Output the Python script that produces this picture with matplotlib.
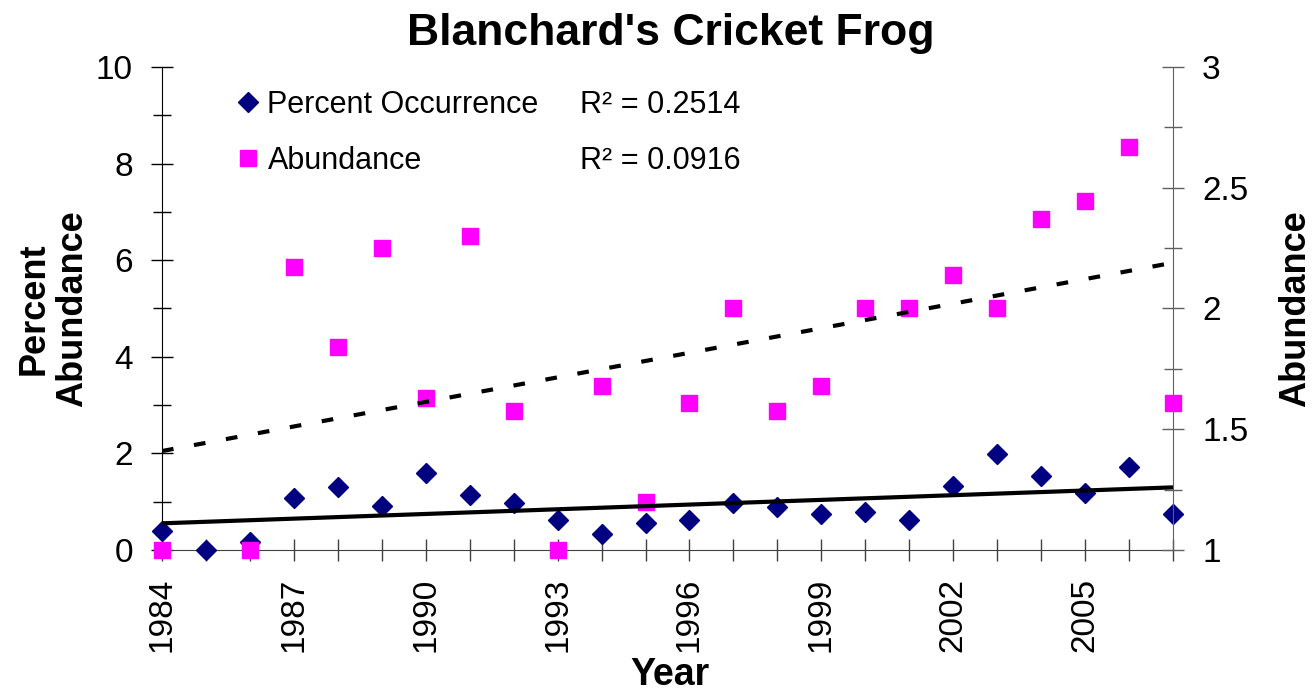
import numpy as np
import matplotlib
matplotlib.use("Agg")
import matplotlib.pyplot as plt
from matplotlib.lines import Line2D

plt.rcParams['font.family'] = ['Liberation Sans', 'DejaVu Sans']

years = list(range(1984, 2008))
percent = [0.39, 0.0, 0.17, 1.08, 1.31, 0.91, 1.59, 1.14, 0.97, 0.62, 0.33, 0.55,
           0.62, 0.97, 0.90, 0.74, 0.79, 0.62, 1.32, 1.99, 1.53, 1.19, 1.71, 0.74]
abund_years = [1984, 1986, 1987, 1988, 1989, 1990, 1991, 1992, 1993, 1994, 1995,
               1996, 1997, 1998, 1999, 2000, 2001, 2002, 2003, 2004, 2005, 2006, 2007]
abundance = [1.0, 1.0, 2.17, 1.84, 2.25, 1.63, 2.30, 1.575, 1.0, 1.68, 1.2,
             1.61, 2.0, 1.577, 1.68, 2.0, 2.0, 2.14, 2.0, 2.37, 2.445, 2.67, 1.61]
year_labels = [str(y) if (y - 1984) % 3 == 0 else '' for y in years]
series_names = ['Percent Occurrence', 'Abundance']
r2_labels = ['R\u00b2 = 0.2514', 'R\u00b2 = 0.0916']

navy = '#000080'
magenta = '#FF00FF'

fig = plt.figure(figsize=(13.15, 6.94), dpi=100)
ax = fig.add_axes([0.1232, 0.2075, 0.7688, 0.696])
ax2 = ax.twinx()

ax.plot(years, percent, 'D', color=navy, markersize=10.5, clip_on=False, zorder=3)
ax2.plot(abund_years, abundance, 's', color=magenta, markersize=12, clip_on=False, zorder=3)

# linear trend lines
p1 = np.polyfit(years, percent, 1)
p2 = np.polyfit(abund_years, abundance, 1)
xt = np.array([years[0], years[-1]])
ax2.plot(xt, np.polyval(p1, xt), color='black', lw=3, transform=ax.transData,
         zorder=4, solid_capstyle='butt')
ax2.plot(xt, np.polyval(p2, xt), color='black', lw=3, linestyle=(0, (2.8, 5.0)),
         zorder=4)

ax.set_xlim(1984, 2007)
ax.set_ylim(0, 10)
ax2.set_ylim(1, 3)

ax.set_xticks(years)
ax.set_xticklabels(year_labels, rotation=90)
ax.set_yticks([0, 2, 4, 6, 8, 10])
ax.set_yticks([1, 3, 5, 7, 9], minor=True)
ax2.set_yticks([1, 1.5, 2, 2.5, 3])
ax2.set_yticklabels(['1', '1.5', '2', '2.5', '3'])
ax2.set_yticks([1.25, 1.75, 2.25, 2.75], minor=True)

ax.tick_params(axis='x', which='major', direction='inout', length=16.5, width=1,
               labelsize=24, pad=12, color='#404040')
ax.tick_params(axis='y', which='major', direction='inout', length=16, width=1,
               labelsize=24, pad=13)
ax.tick_params(axis='y', which='minor', direction='inout', length=13, width=1)
ax2.tick_params(axis='y', which='major', direction='inout', length=16, width=1,
                labelsize=24, pad=13, color='#606060')
ax2.tick_params(axis='y', which='minor', direction='inout', length=13, width=1,
                color='#606060')

for a in (ax, ax2):
    a.spines['top'].set_visible(False)
ax.spines['right'].set_visible(False)
ax2.spines['left'].set_visible(False)
ax2.spines['bottom'].set_visible(False)
ax2.spines['right'].set_color('#606060')
ax.spines['bottom'].set_color('#404040')

ax.set_ylabel('Percent\nAbundance', fontsize=26, fontweight='bold', linespacing=1.15)
ax.yaxis.set_label_coords(-0.071, 0.5)
ax2.set_ylabel('Abundance', fontsize=26, fontweight='bold')
ax2.yaxis.set_label_coords(1.104, 0.5)
ax.set_xlabel('Year', fontsize=27, fontweight='bold')
ax.xaxis.set_label_coords(0.502, -0.222)

fig.text(0.51, 0.935, "Blanchard's Cricket Frog", fontsize=32, fontweight='bold',
         ha='center', va='baseline')

handles = [Line2D([], [], marker='D', color=navy, linestyle='none', markersize=10),
           Line2D([], [], marker='s', color=magenta, linestyle='none', markersize=12)]
leg = ax2.legend(handles, series_names, loc='upper left', bbox_to_anchor=(0.062, 0.978),
                 frameon=False, fontsize=22, handlelength=0.7, handletextpad=0.3,
                 labelspacing=0.85, borderaxespad=0)
for i, lab in enumerate(r2_labels):
    ax2.text(0.413, 0.922 - i * 0.117, lab, transform=ax.transAxes, fontsize=22,
             va='center', ha='left')

fig.savefig('out.png', dpi=100)
